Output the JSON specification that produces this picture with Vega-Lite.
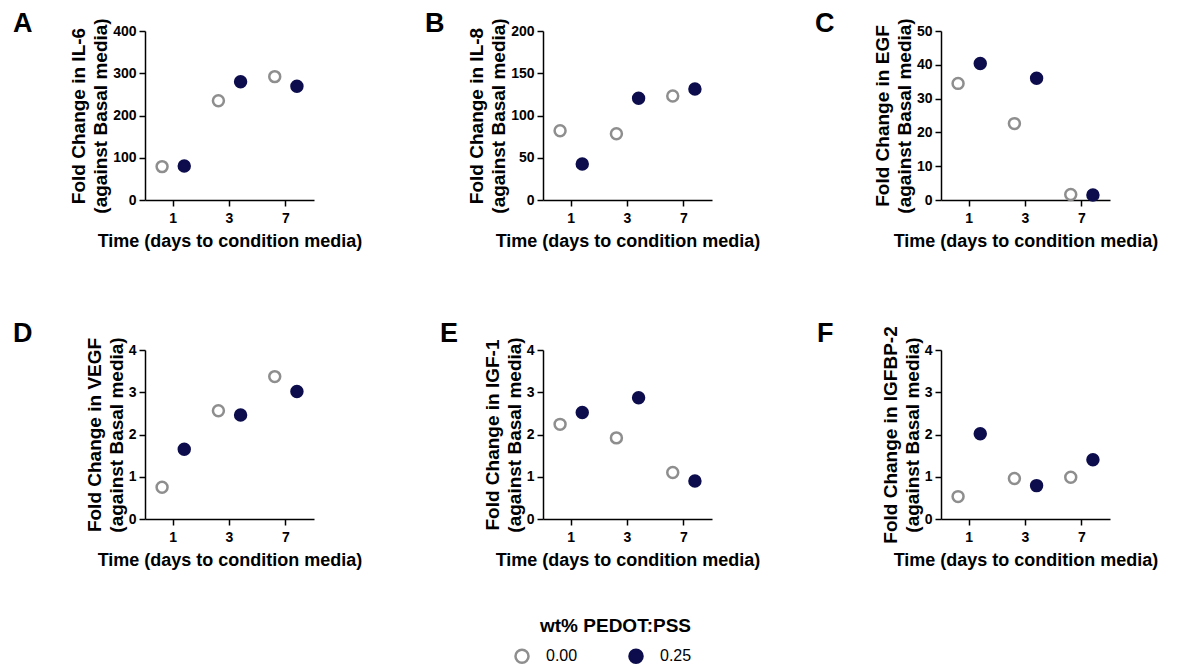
{
  "$schema": "https://vega.github.io/schema/vega-lite/v6.json",
  "padding": {"left": 13, "top": 9, "right": 5, "bottom": 5},
  "background": "white",
  "bounds": "flush",
  "columns": 3,
  "spacing": {"column": 229, "row": 150},
  "datasets": {
    "A": [
      {"day": "1", "wt": "0.00", "value": 79},
      {"day": "1", "wt": "0.25", "value": 80.5},
      {"day": "3", "wt": "0.00", "value": 235},
      {"day": "3", "wt": "0.25", "value": 280},
      {"day": "7", "wt": "0.00", "value": 292},
      {"day": "7", "wt": "0.25", "value": 269}
    ],
    "B": [
      {"day": "1", "wt": "0.00", "value": 82},
      {"day": "1", "wt": "0.25", "value": 42.6},
      {"day": "3", "wt": "0.00", "value": 78.5},
      {"day": "3", "wt": "0.25", "value": 120.3},
      {"day": "7", "wt": "0.00", "value": 123},
      {"day": "7", "wt": "0.25", "value": 131.4}
    ],
    "C": [
      {"day": "1", "wt": "0.00", "value": 34.5},
      {"day": "1", "wt": "0.25", "value": 40.4},
      {"day": "3", "wt": "0.00", "value": 22.6},
      {"day": "3", "wt": "0.25", "value": 36},
      {"day": "7", "wt": "0.00", "value": 1.6},
      {"day": "7", "wt": "0.25", "value": 1.5}
    ],
    "D": [
      {"day": "1", "wt": "0.00", "value": 0.75},
      {"day": "1", "wt": "0.25", "value": 1.65},
      {"day": "3", "wt": "0.00", "value": 2.56},
      {"day": "3", "wt": "0.25", "value": 2.46},
      {"day": "7", "wt": "0.00", "value": 3.37},
      {"day": "7", "wt": "0.25", "value": 3.02}
    ],
    "E": [
      {"day": "1", "wt": "0.00", "value": 2.24},
      {"day": "1", "wt": "0.25", "value": 2.52},
      {"day": "3", "wt": "0.00", "value": 1.92},
      {"day": "3", "wt": "0.25", "value": 2.87},
      {"day": "7", "wt": "0.00", "value": 1.10},
      {"day": "7", "wt": "0.25", "value": 0.90}
    ],
    "F": [
      {"day": "1", "wt": "0.00", "value": 0.53},
      {"day": "1", "wt": "0.25", "value": 2.02},
      {"day": "3", "wt": "0.00", "value": 0.96},
      {"day": "3", "wt": "0.25", "value": 0.79},
      {"day": "7", "wt": "0.00", "value": 0.99},
      {"day": "7", "wt": "0.25", "value": 1.40}
    ]
  },
  "concat": [
    {
      "data": {"name": "A"},
      "width": 169, "height": 169,
      "title": {"text": "A", "dx": -132, "offset": -20},
      "mark": {"type": "point", "shape": "circle", "size": 120, "strokeWidth": 2.5, "opacity": 1},
      "encoding": {
        "x": {"field": "day", "type": "ordinal", "scale": {"domain": ["1", "3", "7"], "paddingInner": 0, "paddingOuter": 0}, "axis": {"title": "Time (days to condition media)"}},
        "xOffset": {"field": "wt", "type": "nominal", "scale": {"domain": ["0.00", "0.25"], "paddingOuter": 0.77}},
        "y": {"field": "value", "type": "quantitative", "scale": {"domain": [0, 400]}, "axis": {"values": [0, 100, 200, 300, 400], "title": ["Fold Change in IL-6", "(against Basal media)"]}},
        "fill": {"field": "wt", "type": "nominal", "title": "wt% PEDOT:PSS", "scale": {"domain": ["0.00", "0.25"], "range": ["#ffffff", "#0d0d4d"]}},
        "stroke": {"field": "wt", "type": "nominal", "title": "wt% PEDOT:PSS", "scale": {"domain": ["0.00", "0.25"], "range": ["#8e8e8e", "#0d0d4d"]}}
      }
    },
    {
      "data": {"name": "B"},
      "width": 169, "height": 169,
      "title": {"text": "B", "dx": -118, "offset": -20},
      "mark": {"type": "point", "shape": "circle", "size": 120, "strokeWidth": 2.5, "opacity": 1},
      "encoding": {
        "x": {"field": "day", "type": "ordinal", "scale": {"domain": ["1", "3", "7"], "paddingInner": 0, "paddingOuter": 0}, "axis": {"title": "Time (days to condition media)"}},
        "xOffset": {"field": "wt", "type": "nominal", "scale": {"domain": ["0.00", "0.25"], "paddingOuter": 0.77}},
        "y": {"field": "value", "type": "quantitative", "scale": {"domain": [0, 200]}, "axis": {"values": [0, 50, 100, 150, 200], "title": ["Fold Change in IL-8", "(against Basal media)"]}},
        "fill": {"field": "wt", "type": "nominal", "title": "wt% PEDOT:PSS", "scale": {"domain": ["0.00", "0.25"], "range": ["#ffffff", "#0d0d4d"]}},
        "stroke": {"field": "wt", "type": "nominal", "title": "wt% PEDOT:PSS", "scale": {"domain": ["0.00", "0.25"], "range": ["#8e8e8e", "#0d0d4d"]}}
      }
    },
    {
      "data": {"name": "C"},
      "width": 169, "height": 169,
      "title": {"text": "C", "dx": -126, "offset": -20},
      "mark": {"type": "point", "shape": "circle", "size": 120, "strokeWidth": 2.5, "opacity": 1},
      "encoding": {
        "x": {"field": "day", "type": "ordinal", "scale": {"domain": ["1", "3", "7"], "paddingInner": 0, "paddingOuter": 0}, "axis": {"title": "Time (days to condition media)"}},
        "xOffset": {"field": "wt", "type": "nominal", "scale": {"domain": ["0.00", "0.25"], "paddingOuter": 0.77}},
        "y": {"field": "value", "type": "quantitative", "scale": {"domain": [0, 50]}, "axis": {"values": [0, 10, 20, 30, 40, 50], "title": ["Fold Change in EGF", "(against Basal media)"]}},
        "fill": {"field": "wt", "type": "nominal", "title": "wt% PEDOT:PSS", "scale": {"domain": ["0.00", "0.25"], "range": ["#ffffff", "#0d0d4d"]}},
        "stroke": {"field": "wt", "type": "nominal", "title": "wt% PEDOT:PSS", "scale": {"domain": ["0.00", "0.25"], "range": ["#8e8e8e", "#0d0d4d"]}}
      }
    },
    {
      "data": {"name": "D"},
      "width": 169, "height": 169,
      "title": {"text": "D", "dx": -132, "offset": -11},
      "mark": {"type": "point", "shape": "circle", "size": 120, "strokeWidth": 2.5, "opacity": 1},
      "encoding": {
        "x": {"field": "day", "type": "ordinal", "scale": {"domain": ["1", "3", "7"], "paddingInner": 0, "paddingOuter": 0}, "axis": {"title": "Time (days to condition media)"}},
        "xOffset": {"field": "wt", "type": "nominal", "scale": {"domain": ["0.00", "0.25"], "paddingOuter": 0.77}},
        "y": {"field": "value", "type": "quantitative", "scale": {"domain": [0, 4]}, "axis": {"values": [0, 1, 2, 3, 4], "title": ["Fold Change in VEGF", "(against Basal media)"]}},
        "fill": {"field": "wt", "type": "nominal", "title": "wt% PEDOT:PSS", "scale": {"domain": ["0.00", "0.25"], "range": ["#ffffff", "#0d0d4d"]}},
        "stroke": {"field": "wt", "type": "nominal", "title": "wt% PEDOT:PSS", "scale": {"domain": ["0.00", "0.25"], "range": ["#8e8e8e", "#0d0d4d"]}}
      }
    },
    {
      "data": {"name": "E"},
      "width": 169, "height": 169,
      "title": {"text": "E", "dx": -103, "offset": -11},
      "mark": {"type": "point", "shape": "circle", "size": 120, "strokeWidth": 2.5, "opacity": 1},
      "encoding": {
        "x": {"field": "day", "type": "ordinal", "scale": {"domain": ["1", "3", "7"], "paddingInner": 0, "paddingOuter": 0}, "axis": {"title": "Time (days to condition media)"}},
        "xOffset": {"field": "wt", "type": "nominal", "scale": {"domain": ["0.00", "0.25"], "paddingOuter": 0.77}},
        "y": {"field": "value", "type": "quantitative", "scale": {"domain": [0, 4]}, "axis": {"values": [0, 1, 2, 3, 4], "title": ["Fold Change in IGF-1", "(against Basal media)"]}},
        "fill": {"field": "wt", "type": "nominal", "title": "wt% PEDOT:PSS", "scale": {"domain": ["0.00", "0.25"], "range": ["#ffffff", "#0d0d4d"]}},
        "stroke": {"field": "wt", "type": "nominal", "title": "wt% PEDOT:PSS", "scale": {"domain": ["0.00", "0.25"], "range": ["#8e8e8e", "#0d0d4d"]}}
      }
    },
    {
      "data": {"name": "F"},
      "width": 169, "height": 169,
      "title": {"text": "F", "dx": -124, "offset": -22},
      "mark": {"type": "point", "shape": "circle", "size": 120, "strokeWidth": 2.5, "opacity": 1},
      "encoding": {
        "x": {"field": "day", "type": "ordinal", "scale": {"domain": ["1", "3", "7"], "paddingInner": 0, "paddingOuter": 0}, "axis": {"title": "Time (days to condition media)"}},
        "xOffset": {"field": "wt", "type": "nominal", "scale": {"domain": ["0.00", "0.25"], "paddingOuter": 0.77}},
        "y": {"field": "value", "type": "quantitative", "scale": {"domain": [0, 4]}, "axis": {"values": [0, 1, 2, 3, 4], "title": ["Fold Change in IGFBP-2", "(against Basal media)"]}},
        "fill": {"field": "wt", "type": "nominal", "title": "wt% PEDOT:PSS", "scale": {"domain": ["0.00", "0.25"], "range": ["#ffffff", "#0d0d4d"]}},
        "stroke": {"field": "wt", "type": "nominal", "title": "wt% PEDOT:PSS", "scale": {"domain": ["0.00", "0.25"], "range": ["#8e8e8e", "#0d0d4d"]}}
      }
    }
  ],
  "resolve": {
    "scale": {"fill": "shared", "stroke": "shared"},
    "legend": {"fill": "shared", "stroke": "shared"}
  },
  "config": {
    "font": "Liberation Sans",
    "view": {"stroke": null},
    "title": {"anchor": "start", "frame": "group", "fontSize": 27, "fontWeight": "bold", "color": "#000000", "font": "Liberation Sans", "baseline": "alphabetic"},
    "axis": {
      "grid": false,
      "domainColor": "#000000",
      "domainWidth": 1.5,
      "tickColor": "#000000",
      "tickWidth": 1.5,
      "tickSize": 6,
      "labelFont": "Liberation Sans",
      "labelFontSize": 14,
      "labelFontWeight": "bold",
      "labelColor": "#000000",
      "labelPadding": 3,
      "titleFont": "Liberation Sans",
      "titleFontWeight": "bold",
      "titleColor": "#000000"
    },
    "axisX": {"labelAngle": 0, "labelPadding": 5, "titleFontSize": 18, "titlePadding": 7},
    "axisY": {"titleFontSize": 19, "titlePadding": 2, "titleLineHeight": 22},
    "legend": {
      "orient": "none",
      "legendX": 369,
      "legendY": 586,
      "direction": "horizontal",
      "titleAnchor": "end",
      "titleFontSize": 19,
      "titleFontWeight": "bold",
      "titleColor": "#000000",
      "titlePadding": 12,
      "labelFontSize": 16,
      "labelColor": "#000000",
      "labelFont": "Liberation Sans",
      "symbolType": "circle",
      "symbolSize": 170,
      "symbolStrokeWidth": 2.5,
      "labelOffset": 16,
      "columnPadding": 46
    }
  }
}
